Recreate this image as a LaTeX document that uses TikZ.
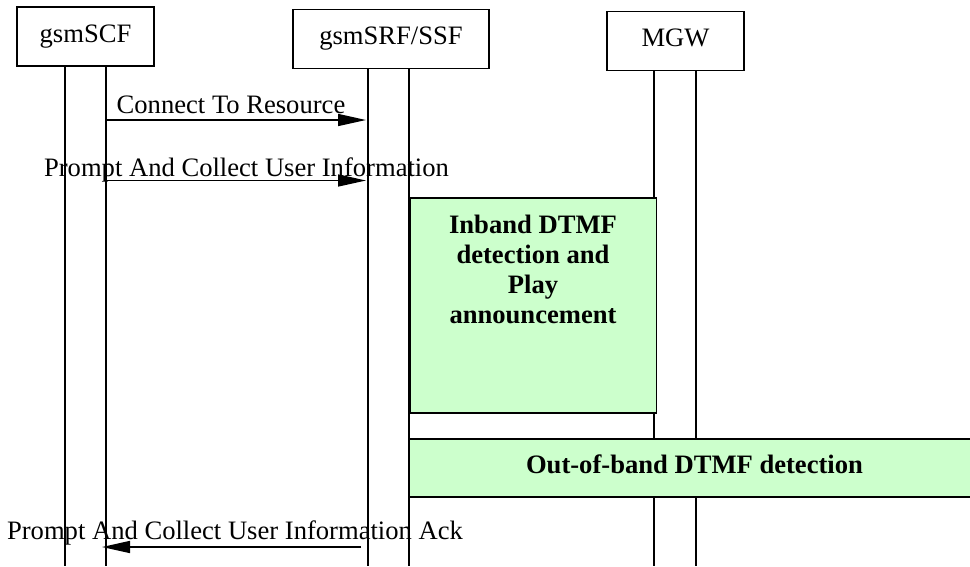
\documentclass[tikz,border=0pt]{standalone}
\usepackage{fontspec}
\setmainfont{Liberation Serif}
\usepackage{xcolor}
\usetikzlibrary{arrows.meta, positioning, calc}
\definecolor{phasegreen}{HTML}{CCFFCC}

\begin{document}
\begin{tikzpicture}[
    x=1pt, y=-1pt,
    actor/.style={rectangle, draw, line width=1.5pt, minimum width=137pt, minimum height=59pt,
                  inner sep=0pt, text height=17.6pt, text depth=5.8pt,
                  font=\fontsize{26.6}{30}\selectfont},
    lifeline/.style={line width=1.5pt},
    phasebox/.style={rectangle, draw, fill=phasegreen, line width=1.5pt, inner sep=0pt},
    phasetext/.style={align=center, inner sep=0pt, font=\fontsize{26.6}{30}\selectfont\bfseries},
    msg/.style={-{Triangle[length=28pt, width=12pt]}, line width=1.5pt},
    msglabel/.style={anchor=base, inner sep=0pt, font=\fontsize{26.6}{30}\selectfont},
]
  \useasboundingbox (0,0) rectangle (970,566);

  % Actors
  \node[actor] (scf) at (85.5,36.5) {gsmSCF};
  \node[actor, minimum width=196pt] (srf) at (391,39) {gsmSRF/SSF};
  \node[actor] (mgw) at (675.5,41) {MGW};

  % Lifeline ends
  \coordinate (scf1) at (65,566);
  \coordinate (scf2) at (106,566);
  \coordinate (srf1) at (368,566);
  \coordinate (srf2) at (409,566);
  \coordinate (mgw1) at (654,566);
  \coordinate (mgw2) at (696,566);

  \draw[lifeline] (scf.south -| scf1) -- (scf1);
  \draw[lifeline] (scf.south -| scf2) -- (scf2);
  \draw[lifeline] (srf.south -| srf1) -- (srf1);
  \draw[lifeline] (srf.south -| srf2) -- (srf2);
  \draw[lifeline] (mgw.south -| mgw1) -- (mgw1);
  \draw[lifeline] (mgw.south -| mgw2) -- (mgw2);

  % Messages
  \coordinate (m1) at (0,120);
  \coordinate (m2) at (0,180.5);
  \coordinate (m3) at (0,547);
  \draw[msg] (m1 -| scf2) -- ([xshift=-2pt]m1 -| srf1);
  \node[msglabel] (conn) at (231,113) {Connect To Resource};
  \draw[msg] (m2 -| scf2) -- ([xshift=-2pt]m2 -| srf1);
  \node[msglabel] (pcui) at (246.5,176) {Prompt And Collect User Information};
  \draw[msg] ([xshift=-7pt]m3 -| srf1) -- ([xshift=-4pt]m3 -| scf2);
  \node[msglabel] (pcuiack) at (235,539) {Prompt And Collect User Information Ack};

  % Inband phase
  \node[phasebox, anchor=north west, minimum width=246pt, minimum height=215pt] (inband) at (409.5,197) {};
  \node[phasetext, anchor=north] (inbandtext) at (533,214.5) {Inband DTMF\\detection and\\Play\\announcement};

  % Out-of-band phase
  \node[phasebox, anchor=north west, minimum width=573pt, minimum height=58pt] (outband) at (408,438) {};
  \node[phasetext, anchor=base] (outbandtext) at (694.5,473) {Out-of-band DTMF detection};
\end{tikzpicture}
\end{document}
